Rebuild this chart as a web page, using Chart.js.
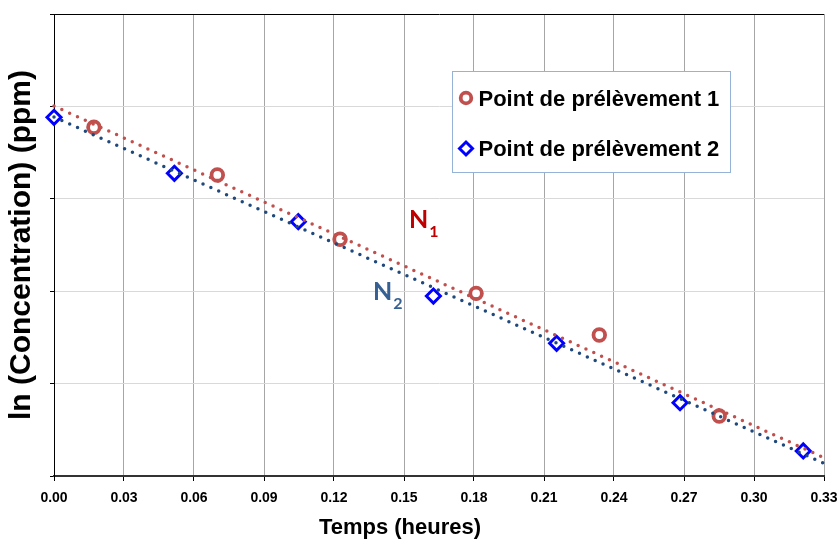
<!DOCTYPE html>
<html lang="fr">
<head>
<meta charset="utf-8">
<title>ln (Concentration) en fonction du temps</title>
<script src="https://cdn.jsdelivr.net/npm/chart.js@4.4.1/dist/chart.umd.min.js"></script>
<style>
    html, body { margin: 0; padding: 0; background: #fff; }
    #wrap { position: relative; width: 839px; height: 540px; }
</style>
</head>
<body>
<div id="wrap"><canvas id="graphique"></canvas></div>
<script>
/* ============ DONNÉES ============ */

const xTicks = [0, 0.03, 0.06, 0.09, 0.12, 0.15, 0.18, 0.21, 0.24, 0.27, 0.30, 0.33];
const yTicks = [0, 1, 2, 3, 4, 5];

const nomsSeries = ["Point de prélèvement 1", "Point de prélèvement 2"];

// Point de prélèvement 1 (cercles)
const temps1 = [0.0171, 0.0700, 0.1226, 0.1809, 0.2337, 0.2851];
const lnC1 = [3.774, 3.258, 2.562, 1.977, 1.526, 0.649];

// Point de prélèvement 2 (losanges)
const temps2 = [0.0000, 0.0516, 0.1047, 0.1626, 0.2154, 0.2683, 0.3211];
const lnC2 = [3.882, 3.276, 2.752, 1.948, 1.436, 0.793, 0.271];

// droites de tendance, lues aux bords du graphique
const tendanceTemps = [0, 0.33];
const tendance1 = [4.004, 0.198];
const tendance2 = [3.885, 0.137];

// étiquettes des droites
const etiquettes = ["N", "N"];
const indices = ["1", "2"];

const titreX = "Temps (heures)";
const titreY = "ln (Concentration) (ppm)";

/* ============ STYLE ============ */

const POLICE = '"Liberation Sans", Arial, sans-serif';
const ROUGE = "#C0504D";
const BLEU = "#0000FF";
const BLEU_FONCE = "#1F497D";

// position des étiquettes N (en unités des axes)
const posEtiquettes = [
    { x: 0.1521, y: 2.684, couleur: "#C00000" },
    { x: 0.1367, y: 1.905, couleur: "#376092" }
];

const points = (xs, ys) => xs.map((x, i) => ({ x: x, y: ys[i] }));

/* ============ PLUGINS ============ */

const legendeEncadree = {
    id: "legendeEncadree",
    afterDraw(chart) {
        const ctx = chart.ctx;
        const area = chart.chartArea;
        const left = area.left + 398, top = area.top + 57;
        ctx.save();
        ctx.fillStyle = "#fff";
        ctx.fillRect(left, top, 278, 101);
        ctx.strokeStyle = "#95B3D7";
        ctx.lineWidth = 1;
        ctx.strokeRect(left + 0.5, top + 0.5, 278, 101);

        [2, 3].forEach((idx, i) => {
            const ds = chart.data.datasets[idx];
            const cy = top + 27 + i * 50.5;
            ctx.fillStyle = ds.pointBackgroundColor;
            ctx.strokeStyle = ds.borderColor;
            ctx.lineWidth = ds.pointBorderWidth;
            Chart.helpers.drawPoint(ctx, {
                pointStyle: ds.pointStyle,
                radius: ds.pointRadius - 0.5,
                rotation: 0,
                borderWidth: ds.pointBorderWidth
            }, left + 14, cy);
            ctx.fillStyle = "#000";
            ctx.font = "bold 22px " + POLICE;
            ctx.textBaseline = "alphabetic";
            ctx.fillText(ds.label, left + 26.5, cy + 7.5);
        });
        ctx.restore();
    }
};

// titre de l'axe des x (décalé vers la gauche comme dans l'original)
const titreAxeX = {
    id: "titreAxeX",
    afterDraw(chart) {
        const ctx = chart.ctx;
        ctx.save();
        ctx.fillStyle = "#000";
        ctx.font = "bold 22px " + POLICE;
        ctx.textAlign = "center";
        ctx.textBaseline = "alphabetic";
        ctx.fillText(titreX, 400, 534);
        ctx.restore();
    }
};

const etiquettesDroites = {
    id: "etiquettesDroites",
    afterDatasetsDraw(chart) {
        const ctx = chart.ctx;
        const sx = chart.scales.x, sy = chart.scales.y;
        ctx.save();
        ctx.textBaseline = "alphabetic";
        posEtiquettes.forEach((p, i) => {
            const x = sx.getPixelForValue(p.x);
            const y = sy.getPixelForValue(p.y);
            ctx.fillStyle = p.couleur;
            ctx.font = "bold 25px Lato, sans-serif";
            ctx.fillText(etiquettes[i], x, y);
            const w = ctx.measureText(etiquettes[i]).width;
            ctx.font = "bold 16px Lato, sans-serif";
            ctx.fillText(indices[i], x + w + 1, y + 9);
        });
        ctx.restore();
    }
};

/* ============ GRAPHIQUE ============ */

function initGraphique() {
    const ctx = document.getElementById("graphique");
    new Chart(ctx, {
        type: "scatter",
        data: {
            datasets: [
                {
                    label: "Tendance 2",
                    data: points(tendanceTemps, tendance2),
                    showLine: true,
                    borderColor: BLEU_FONCE,
                    borderWidth: 3.5,
                    borderDash: [0, 8.6],
                    borderCapStyle: "round",
                    pointRadius: 0,
                    clip: false
                },
                {
                    label: "Tendance 1",
                    data: points(tendanceTemps, tendance1),
                    showLine: true,
                    borderColor: ROUGE,
                    borderWidth: 3.5,
                    borderDash: [0, 8.6],
                    borderCapStyle: "round",
                    pointRadius: 0,
                    clip: false
                },
                {
                    label: nomsSeries[0],
                    data: points(temps1, lnC1),
                    pointStyle: "circle",
                    pointRadius: 5.8,
                    pointBorderWidth: 3.8,
                    borderColor: ROUGE,
                    pointBackgroundColor: "#fff",
                    backgroundColor: "#fff",
                    clip: false
                },
                {
                    label: nomsSeries[1],
                    data: points(temps2, lnC2),
                    pointStyle: "rectRot",
                    pointRadius: 7,
                    pointBorderWidth: 3,
                    borderColor: BLEU,
                    pointBackgroundColor: "#fff",
                    backgroundColor: "#fff",
                    clip: false
                }
            ]
        },
        options: {
            responsive: false,
            animation: false,
            layout: { padding: { top: 14, right: 15, left: 0, bottom: 0 } },
            plugins: {
                legend: { display: false },
                tooltip: { enabled: false }
            },
            scales: {
                x: {
                    type: "linear",
                    min: 0,
                    max: 0.33,
                    afterBuildTicks: s => { s.ticks = xTicks.map(v => ({ value: v })); },
                    afterFit: s => {
                        s.height = 64;
                        s.paddingLeft = 0;
                        s.paddingRight = 0;
                    },
                    grid: {
                        color: "#A6A6A6",
                        tickColor: "#000",
                        tickLength: 5,
                        lineWidth: 1
                    },
                    border: { color: "#333", width: 2 },
                    ticks: {
                        color: "#000",
                        padding: 9,
                        maxRotation: 0,
                        autoSkip: false,
                        font: { family: POLICE, size: 14, weight: "bold" },
                        callback: v => v.toFixed(2)
                    },
                    title: { display: false }
                },
                y: {
                    type: "linear",
                    min: 0,
                    max: 5,
                    afterBuildTicks: s => { s.ticks = yTicks.map(v => ({ value: v })); },
                    afterFit: s => { s.width = 54; },
                    grid: {
                        color: c => (c.tick && c.tick.value === 5 ? "#000" : "#D9D9D9"),
                        tickColor: "#000",
                        tickLength: 4
                    },
                    border: { color: "#000", width: 1 },
                    ticks: { callback: () => "", padding: 0 },
                    title: {
                        display: true,
                        text: titreY,
                        color: "#000",
                        padding: { top: 4, bottom: 0 },
                        font: { family: POLICE, size: 30, weight: "bold" }
                    }
                }
            }
        },
        plugins: [etiquettesDroites, legendeEncadree, titreAxeX]
    });
}

const c = document.getElementById("graphique");
c.width = 839;
c.height = 540;
initGraphique();
</script>
</body>
</html>
